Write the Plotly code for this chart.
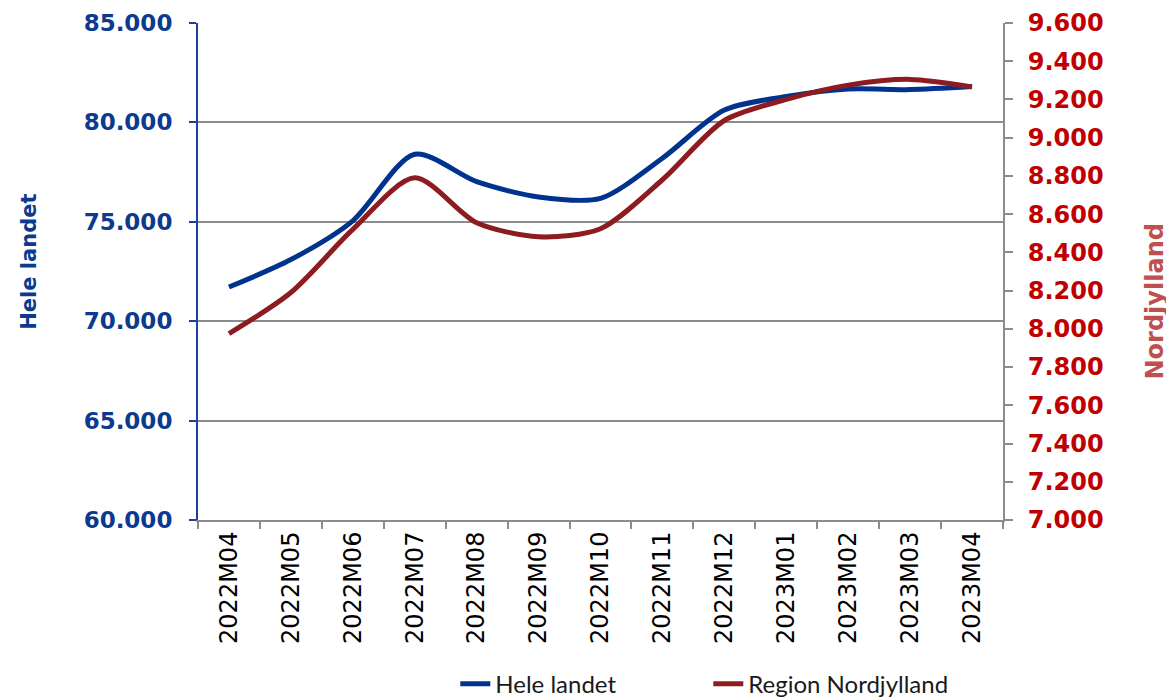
import plotly.graph_objects as go

categories = ["2022M04", "2022M05", "2022M06", "2022M07", "2022M08", "2022M09", "2022M10",
              "2022M11", "2022M12", "2023M01", "2023M02", "2023M03", "2023M04"]
hele_landet = [71720, 73100, 75050, 78400, 77020, 76250, 76180, 78200, 80620, 81300, 81680, 81650, 81800]
nordjylland = [7975, 8190, 8520, 8790, 8555, 8482, 8524, 8780, 9090, 9200, 9275, 9305, 9266]

NAVY = "#0B3A8E"
BLUE_LINE = "#00338D"
RED_LINE = "#8C1C20"
RED_TICK = "#C00000"
RED_TITLE = "#C0504D"
GRID = "#8C8C8C"
FONT = "DejaVu Sans"

fig = go.Figure()
fig.add_trace(go.Scatter(x=categories, y=hele_landet, name="Hele landet", mode="lines",
                         line=dict(color=BLUE_LINE, width=5, shape="spline", smoothing=0.8),
                         yaxis="y"))
fig.add_trace(go.Scatter(x=categories, y=nordjylland, name="Region Nordjylland", mode="lines",
                         line=dict(color=RED_LINE, width=5, shape="spline", smoothing=0.8),
                         yaxis="y2"))

fig.update_layout(
    width=1174, height=700,
    margin=dict(l=190, r=179, t=15, b=188, autoexpand=False),
    paper_bgcolor="white", plot_bgcolor="white",
    separators=",.",
    showlegend=True,
    legend=dict(orientation="h", xref="container", yref="container",
                x=0.381, xanchor="left", y=0.034, yanchor="middle",
                font=dict(family="Lato", size=24, color="#1a1a1a"),
                entrywidth=208, entrywidthmode="pixels", bgcolor="rgba(0,0,0,0)"),
    xaxis=dict(type="category", range=[-0.5, 12.5], showgrid=False, automargin=False,
               showline=True, linecolor=GRID, linewidth=2,
               ticks="outside", tickson="boundaries", ticklen=7, tickcolor=GRID, tickwidth=2,
               tickangle=-90, tickfont=dict(family=FONT, size=24, color="#000000")),
    yaxis=dict(range=[60000, 85000], dtick=5000, tickformat=",d", automargin=False,
               showgrid=True, gridcolor=GRID, gridwidth=2, zeroline=False,
               showline=True, linecolor="#1F3F99", linewidth=2,
               ticks="outside", ticklen=7, tickcolor="#1F3F99", tickwidth=2,
               ticklabelstandoff=12,
               tickfont=dict(family=FONT, size=23, color=NAVY, weight="bold")),
    yaxis2=dict(range=[7000, 9600], dtick=200, tickformat=",d", overlaying="y", side="right",
                showgrid=False, zeroline=False, automargin=False,
                showline=True, linecolor=GRID, linewidth=2,
                ticks="outside", ticklen=8, tickcolor=GRID, tickwidth=2,
                ticklabelstandoff=10,
                tickfont=dict(family=FONT, size=24, color=RED_TICK, weight="bold")),
    annotations=[
        dict(text="<b>Hele landet</b>", xref="paper", yref="paper",
             x=-0.211, y=0.52, xanchor="center", yanchor="middle", textangle=-90,
             showarrow=False, font=dict(family=FONT, size=21, color=NAVY)),
        dict(text="<b>Nordjylland</b>", xref="paper", yref="paper",
             x=1.189, y=0.44, xanchor="center", yanchor="middle", textangle=-90,
             showarrow=False, font=dict(family=FONT, size=24, color=RED_TITLE)),
    ],
)

fig.write_html("out.html")
